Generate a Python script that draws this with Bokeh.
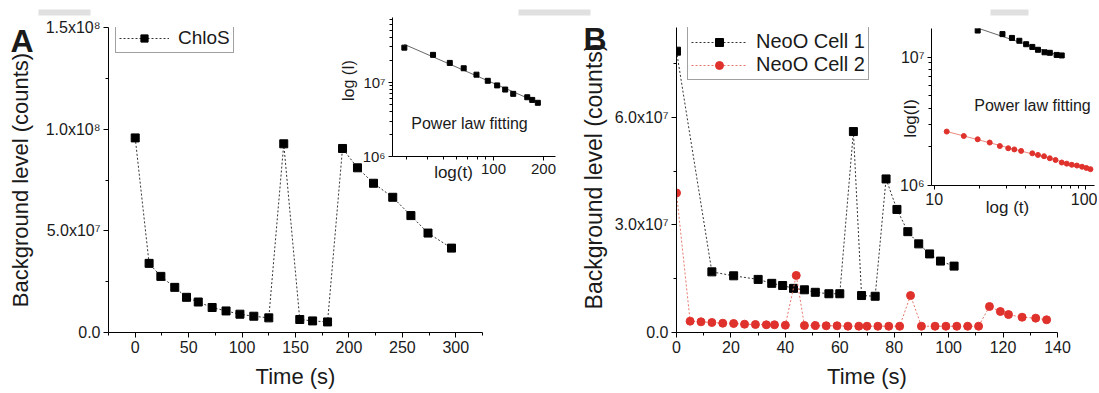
import numpy as np
from bokeh.plotting import figure
from bokeh.models import (FixedTicker, Legend, LegendItem, Label, BoxAnnotation,
                          GridBox, Range1d)
from bokeh.embed import file_html
from bokeh.resources import INLINE

FONT = "Liberation Sans"
TXT = "#1a1a1a"
RED = "#e0322d"
RED_LINE = "#e5776b"

# ---------------- data ----------------
# Panel A main (ChloS)
tA = [0, 13, 24, 37, 48, 59, 72, 85, 98, 111, 125, 139, 154, 166, 180,
      194, 208, 223, 241, 258, 274, 296]
IA = [9.57e7, 3.40e7, 2.76e7, 2.22e7, 1.73e7, 1.50e7, 1.23e7, 1.06e7, 0.90e7,
      0.80e7, 0.72e7, 9.28e7, 0.64e7, 0.57e7, 0.52e7, 9.05e7, 8.10e7, 7.34e7,
      6.65e7, 5.75e7, 4.89e7, 4.15e7]
# Panel A inset (log-log)
tA_in = [29.1, 43.3, 54.6, 66.2, 79, 92.4, 105.2, 117.6, 131.4, 159.6, 171, 184.8]
IA_in = [2.94e7, 2.35e7, 1.83e7, 1.55e7, 1.27e7, 1.05e7, 0.91e7, 0.80e7,
         0.70e7, 0.63e7, 0.58e7, 0.53e7]
# Panel B main
tB1 = [0, 13, 21, 30, 35, 39, 43, 47, 51, 56, 60, 65, 68, 73, 77, 81, 85, 89,
       93, 97, 102]
IB1 = [7.84e7, 1.69e7, 1.58e7, 1.48e7, 1.37e7, 1.31e7, 1.23e7, 1.19e7, 1.12e7,
       1.08e7, 1.08e7, 5.60e7, 1.03e7, 1.01e7, 4.28e7, 3.43e7, 2.81e7, 2.47e7,
       2.19e7, 1.99e7, 1.85e7]
tB2 = [0, 5, 9, 13, 17, 21, 25, 29, 33, 36, 40, 44, 47, 51, 55, 59, 63, 67, 70,
       74, 78, 82, 86, 90, 95, 99, 103, 107, 111, 115, 119, 122, 127, 132, 136]
IB2 = [3.89e7, 0.315e7, 0.298e7, 0.279e7, 0.259e7, 0.251e7, 0.231e7, 0.223e7,
       0.215e7, 0.215e7, 0.203e7, 1.59e7, 0.195e7, 0.195e7, 0.187e7, 0.187e7,
       0.176e7, 0.176e7, 0.175e7, 0.175e7, 0.175e7, 0.175e7, 1.03e7, 0.175e7,
       0.175e7, 0.175e7, 0.175e7, 0.175e7, 0.175e7, 0.725e7, 0.585e7, 0.50e7,
       0.426e7, 0.40e7, 0.354e7]
# Panel B inset (log-log)
tB1_in = [19.4, 28.3, 32.7, 36.6, 40.6, 44.6, 48.6, 53.7, 58.2, 64.6, 69.8]
IB1_in = [1.61e7, 1.51e7, 1.41e7, 1.34e7, 1.26e7, 1.20e7, 1.14e7, 1.09e7,
          1.08e7, 1.04e7, 1.03e7]
tB2_in = [12.1, 15.7, 19.4, 23.3, 27.2, 30.9, 33.9, 37.6, 44.6, 48.6, 53.3,
          58.2, 63.5, 69.8, 75.4, 81.4, 88.0, 95.1, 101.6, 108.1]
IB2_in = [2.63e6, 2.43e6, 2.29e6, 2.16e6, 2.03e6, 1.95e6, 1.91e6, 1.86e6,
          1.78e6, 1.73e6, 1.69e6, 1.63e6, 1.58e6, 1.51e6, 1.48e6, 1.45e6,
          1.43e6, 1.40e6, 1.37e6, 1.34e6]

# tick labels
A_yticks = {0: "0.0", 50000000: "5.0x10\u2077", 100000000: "1.0x10\u2078",
            150000000: "1.5x10\u2078"}
B_yticks = {0: "0.0", 30000000: "3.0x10\u2077", 60000000: "6.0x10\u2077"}
LOG_Y = {1000000: "10\u2076", 10000000: "10\u2077"}


def style(p, tick_px, label_px):
    p.outline_line_color = None
    p.xgrid.visible = False
    p.ygrid.visible = False
    for ax in p.axis:
        ax.axis_line_color = "black"
        ax.axis_line_width = 1
        ax.major_tick_line_color = "black"
        ax.minor_tick_line_color = "black"
        ax.major_tick_out = 5
        ax.major_tick_in = 0
        ax.minor_tick_out = 3
        ax.minor_tick_in = 0
        ax.major_label_text_font = FONT
        ax.major_label_text_font_size = tick_px
        ax.major_label_text_color = TXT
        ax.major_label_standoff = 3
        ax.axis_label_text_font = FONT
        ax.axis_label_text_font_style = "normal"
        ax.axis_label_text_font_size = label_px
        ax.axis_label_text_color = TXT


def fit_line(p, t, I, color="#666666"):
    lt, li = np.log10(t), np.log10(I)
    k, c = np.polyfit(lt, li, 1)
    xs = np.array([lt[0], lt[-1]])
    p.line(10 ** xs, 10 ** (k * xs + c), line_color=color, line_width=1)


# ---------------- Panel A main ----------------
pA = figure(width=560, height=393, x_range=Range1d(-25, 325),
            y_range=Range1d(0, 1.5e8), output_backend="svg",
            toolbar_location=None, min_border_left=108, min_border_right=78,
            min_border_top=27, min_border_bottom=61)
style(pA, "16px", "22px")
pA.xaxis.ticker = FixedTicker(ticks=[0, 50, 100, 150, 200, 250, 300],
                              minor_ticks=[-25, 25, 75, 125, 175, 225, 275, 325])
pA.yaxis.ticker = FixedTicker(ticks=list(A_yticks.keys()),
                              minor_ticks=[2.5e7, 7.5e7, 1.25e8])
pA.yaxis.major_label_overrides = A_yticks
pA.xaxis.axis_label = "Time (s)"
pA.yaxis.axis_label = "Background level (counts)"
pA.xaxis.axis_label_standoff = 8
pA.yaxis.axis_label_standoff = 10
lA = pA.line(tA, IA, line_color="#333333", line_width=1, line_dash="2 2")
sA = pA.scatter(tA, IA, marker="square", size=8, color="black")
pA.add_layout(Legend(items=[LegendItem(label="ChloS", renderers=[lA, sA])],
                     location=(7, 279), label_text_font=FONT,
                     label_text_font_size="19px", label_text_color=TXT,
                     border_line_color="#444444", border_line_width=1,
                     background_fill_color="white", background_fill_alpha=1,
                     padding=3, spacing=0, glyph_width=50, glyph_height=18,
                     label_height=18, label_standoff=9, margin=0))

# ---------------- Panel A inset ----------------
pAi = figure(width=229, height=180, x_axis_type="log", y_axis_type="log",
             x_range=Range1d(24.7, 236), y_range=Range1d(1e6, 7.5e7),
             output_backend="svg", toolbar_location=None,
             min_border_left=62, min_border_right=4, min_border_top=7,
             min_border_bottom=34, background_fill_color=None,
             border_fill_color=None)
style(pAi, "15px", "16px")
pAi.xaxis.ticker = FixedTicker(ticks=[100, 200],
                               minor_ticks=[30, 40, 50, 60, 70, 80, 90])
pAi.xaxis.major_label_overrides = {100: "100", 200: "200"}
pAi.yaxis.ticker = FixedTicker(ticks=[1e6, 1e7],
                               minor_ticks=[2e6, 3e6, 4e6, 5e6, 6e6, 7e6, 8e6, 9e6,
                                            2e7, 3e7, 4e7, 5e7, 6e7, 7e7])
pAi.yaxis.major_label_overrides = LOG_Y
pAi.yaxis.major_tick_out = 4
pAi.xaxis.major_tick_out = 4
fit_line(pAi, tA_in, IA_in)
pAi.scatter(tA_in, IA_in, marker="square", size=5, color="black")

# ---------------- Panel B main ----------------
pB = figure(width=539, height=393, x_range=Range1d(0, 140),
            y_range=Range1d(0, 8.5e7), output_backend="svg",
            toolbar_location=None, min_border_left=116, min_border_right=42,
            min_border_top=27, min_border_bottom=61)
style(pB, "16px", "22px")
pB.xaxis.ticker = FixedTicker(ticks=list(range(0, 141, 20)),
                              minor_ticks=list(range(10, 140, 20)))
pB.yaxis.ticker = FixedTicker(ticks=list(B_yticks.keys()),
                              minor_ticks=[1.5e7, 4.5e7, 7.5e7])
pB.yaxis.major_label_overrides = B_yticks
pB.xaxis.axis_label = "Time (s)"
pB.xaxis.axis_label_standoff = 8
l1 = pB.line(tB1, IB1, line_color="#333333", line_width=1, line_dash="2 2")
s1 = pB.scatter(tB1, IB1, marker="square", size=8, color="black")
l2 = pB.line(tB2, IB2, line_color=RED_LINE, line_width=1, line_dash="2 2")
s2 = pB.scatter(tB2, IB2, marker="circle", size=8, color=RED)
pB.add_layout(Legend(items=[LegendItem(label="NeoO Cell 1", renderers=[l1, s1]),
                            LegendItem(label="NeoO Cell 2", renderers=[l2, s2])],
                     location=(11, 252), label_text_font=FONT,
                     label_text_font_size="20px", label_text_color=TXT,
                     border_line_color="#444444", border_line_width=1,
                     background_fill_color="white", background_fill_alpha=1,
                     padding=3, spacing=0, glyph_width=56, glyph_height=20,
                     label_height=20, label_standoff=9, margin=0))

# ---------------- Panel B inset ----------------
pBi = figure(width=237, height=195, x_axis_type="log", y_axis_type="log",
             x_range=Range1d(9.6, 115), y_range=Range1d(1e6, 1.67e7),
             output_backend="svg", toolbar_location=None,
             min_border_left=71, min_border_right=3, min_border_top=8,
             min_border_bottom=30, background_fill_color=None,
             border_fill_color=None)
style(pBi, "16px", "16px")
pBi.xaxis.ticker = FixedTicker(ticks=[10, 100],
                               minor_ticks=[20, 30, 40, 50, 60, 70, 80, 90])
pBi.xaxis.major_label_overrides = {10: "10", 100: "100"}
pBi.yaxis.ticker = FixedTicker(ticks=[1e6, 1e7],
                               minor_ticks=[2e6, 3e6, 4e6, 5e6, 6e6, 7e6, 8e6, 9e6])
pBi.yaxis.major_label_overrides = LOG_Y
pBi.yaxis.major_tick_out = 4
pBi.xaxis.major_tick_out = 4
fit_line(pBi, tB1_in, IB1_in)
fit_line(pBi, tB2_in, IB2_in, color="#e88a80")
pBi.scatter(tB1_in, IB1_in, marker="square", size=5, color="black")
pBi.scatter(tB2_in, IB2_in, marker="circle", size=5, color=RED)

# ---------------- transparent overlay for free texts (page pixel coords) ----
ov = figure(width=1097, height=391, x_range=Range1d(1, 1098),
            y_range=Range1d(392, 1), output_backend="svg",
            toolbar_location=None, x_axis_location=None, y_axis_location=None,
            min_border=0, min_border_left=0, min_border_right=0,
            min_border_top=0, min_border_bottom=0,
            background_fill_color=None, border_fill_color=None)
ov.outline_line_color = None
ov.xgrid.visible = False
ov.ygrid.visible = False


def lab(x, y, text, size, angle=0.0, bold=False, align="center", base="middle"):
    ov.add_layout(Label(x=x, y=y, text=text, text_font=FONT,
                        text_font_size=size, text_color=TXT,
                        text_font_style="bold" if bold else "normal",
                        angle=angle, text_align=align, text_baseline=base))


def bar(l, r, t, b):
    ov.add_layout(BoxAnnotation(left=l, right=r, top=t, bottom=b,
                                fill_color="#e0e0e0", fill_alpha=1.0,
                                line_color=None))


bar(38, 90, 9, 15)
bar(518, 590, 9, 15)
bar(990, 1028, 9, 15)
lab(10, 40, "A", "32px", bold=True, align="left", base="alphabetic")
lab(583, 38, "B", "32px", bold=True, align="left", base="alphabetic")
lab(593, 176, "Background level (counts)", "23px", angle=np.pi / 2)
lab(453, 172, "log(t)", "17px")
lab(348, 80, "log (I)", "16px", angle=np.pi / 2)
lab(469, 123, "Power law fitting", "16px")
lab(1007, 207, "log (t)", "17px")
lab(910, 118, "log(I)", "17px", angle=np.pi / 2)
lab(1032, 105, "Power law fitting", "16px")

grid = GridBox(children=[(pA, 0, 0, 7, 4), (pB, 0, 4, 7, 4),
                         (pAi, 2, 2, 2, 1), (pBi, 3, 5, 2, 1),
                         (ov, 1, 1, 5, 6)],
               rows=["1px", "9px", "10px", "170px", "25px", "177px", "1px"],
               cols=["1px", "329px", "229px", "1px", "300px", "237px", "1px",
                     "1px"],
               spacing=0)

open("out.html", "w").write(file_html(grid, INLINE))
